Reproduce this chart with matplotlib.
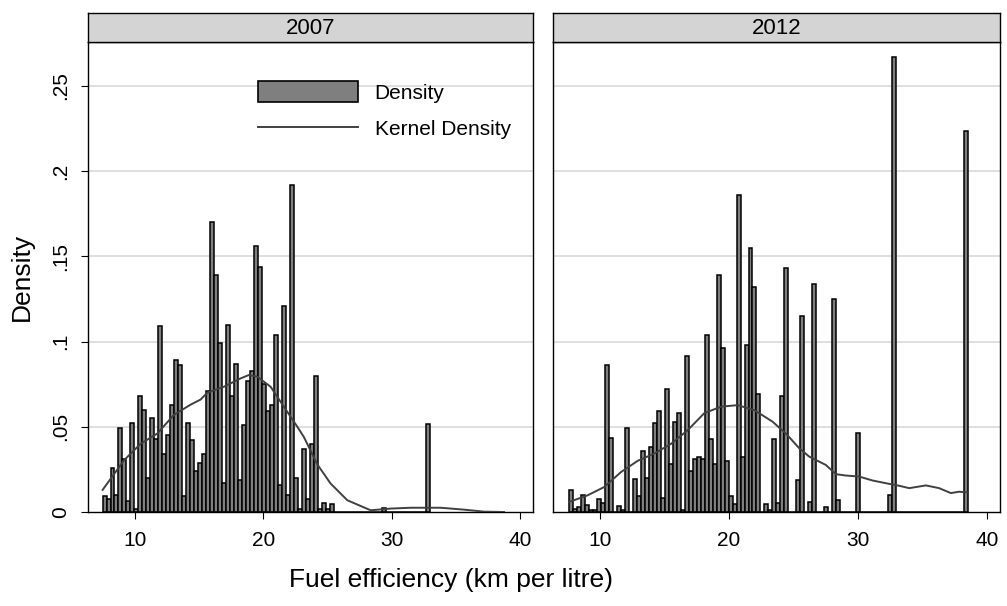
import numpy as np
import matplotlib
matplotlib.use("Agg")
import matplotlib.pyplot as plt
from matplotlib.patches import Patch
from matplotlib.lines import Line2D

plt.rcParams['font.family'] = ['Liberation Sans', 'DejaVu Sans']

years = ["2007", "2012"]

# histogram bins (start, width) and bar heights (density)
start_2007 = 7.48
width_2007 = 0.311
dens_2007 = [
    0.0094, 0.0075, 0.026, 0.0098, 0.049, 0.031, 0.0063, 0.052, 0.0016, 0.068,
    0.060, 0.020, 0.055, 0.043, 0.109, 0.034, 0.045, 0.063, 0.089, 0.086,
    0.0092, 0.052, 0.042, 0.024, 0.029, 0.034, 0.071, 0.170, 0.139, 0.099,
    0.017, 0.110, 0.068, 0.087, 0.019, 0.051, 0.077, 0.083, 0.156, 0.144,
    0.075, 0.059, 0.063, 0.104, 0.016, 0.121, 0.010, 0.192, 0.020, 0.002,
    0.037, 0.0078, 0.040, 0.080, 0.002, 0.0055, 0.002, 0.0047, 0, 0,
    0, 0, 0, 0, 0, 0, 0, 0, 0, 0,
    0.0024, 0, 0, 0, 0, 0, 0, 0, 0, 0,
    0, 0.0516,
]

start_2012 = 7.6
width_2012 = 0.309
dens_2012 = [
    0.0131, 0.002, 0.003, 0.0098, 0.0043, 0.0014, 0.0014, 0.0078, 0.0053, 0.086,
    0.0437, 0, 0.0035, 0.0014, 0.049, 0, 0.0196, 0.0092, 0.036, 0.020,
    0.038, 0.052, 0.059, 0.0084, 0.072, 0.028, 0.053, 0.058, 0.001, 0.0916,
    0.024, 0.031, 0.032, 0.031, 0.104, 0.043, 0.028, 0.139, 0.096, 0.030,
    0.0094, 0.0049, 0.186, 0.032, 0.098, 0.155, 0.132, 0.069, 0, 0.0045,
    0.001, 0.043, 0.005, 0.068, 0.143, 0, 0, 0.0185, 0.115, 0,
    0.0056, 0.134, 0, 0, 0.0027, 0, 0.125, 0.0072, 0, 0,
    0, 0, 0.0465, 0, 0, 0, 0, 0, 0, 0,
    0.010, 0.267, 0, 0, 0, 0, 0, 0, 0, 0,
    0, 0, 0, 0, 0, 0, 0, 0, 0, 0.2237,
]

# kernel density curves
kx_2007 = [7.49, 9.16, 10.44, 11.74, 13.04, 14.34, 15.12, 15.64, 16.93, 18.23,
           18.88, 19.53, 20.57, 21.6, 22.65, 23.16, 24.2, 25.24, 26.54, 28.36,
           29.9, 31.47, 33.8, 35.6, 37.2, 38.74]
ky_2007 = [0.013, 0.0304, 0.040, 0.046, 0.057, 0.063, 0.066, 0.070, 0.0735, 0.0784,
           0.0804, 0.0794, 0.0735, 0.0618, 0.050, 0.044, 0.028, 0.0167, 0.0069, 0.001,
           0.002, 0.0025, 0.0025, 0.0014, 0.0002, 0.0]

kx_2012 = [7.6, 9.04, 10.33, 11.63, 12.91, 14.2, 15.5, 16.79, 18.08, 19.37,
           20.66, 21.95, 23.37, 24.41, 25.44, 26.21, 27.5, 28.28, 29.05, 30.08,
           31.11, 32.15, 33.18, 33.96, 35.25, 36.28, 37.19, 37.83, 38.47]
ky_2012 = [0.0059, 0.0098, 0.0147, 0.0235, 0.030, 0.0343, 0.040, 0.048, 0.058, 0.0618,
           0.0627, 0.0598, 0.053, 0.046, 0.0374, 0.0325, 0.0276, 0.0222, 0.0214, 0.0208,
           0.0185, 0.0169, 0.0154, 0.014, 0.0156, 0.014, 0.0111, 0.0119, 0.0115]

x_ticks = [10, 20, 30, 40]
y_ticks = [0, 0.05, 0.1, 0.15, 0.2, 0.25]
y_labels = ["0", ".05", ".1", ".15", ".2", ".25"]

W, H = 1007, 606


def draw_panel(ax, start, width, dens, kx, ky):
    """Draw one histogram panel with its kernel density."""
    edges = start + width * np.arange(len(dens))
    ax.bar(edges, dens, width=width, align='edge', color='#7f7f7f',
           edgecolor='black', linewidth=1.1, zorder=2)
    ax.plot(kx, ky, color='#404040', linewidth=1.4, zorder=3)
    ax.set_xlim(6.35, 41.0)
    ax.set_ylim(0, 0.2758)
    ax.set_yticks(y_ticks)
    for y in y_ticks[1:]:
        ax.axhline(y, color='#dcdcdc', linewidth=1.3, zorder=0)
    ax.set_xticks(x_ticks)
    ax.tick_params(axis='x', length=5, width=0.8, pad=9, labelsize=15)
    for s in ax.spines.values():
        s.set_linewidth(1.0)


def add_header(fig, left, width, bottom, text):
    hx = fig.add_axes([left, bottom, width, 29 / H])
    hx.set_facecolor('#d4d4d4')
    hx.set_xticks([])
    hx.set_yticks([])
    for s in hx.spines.values():
        s.set_linewidth(1.0)
    hx.text(0.5, 0.47, text, ha='center', va='center', fontsize=16,
            transform=hx.transAxes)


def main():
    fig = plt.figure(figsize=(W / 100, H / 100), dpi=100)
    bottom = (H - 512) / H
    height = (512 - 42) / H
    lefts = [88 / W, 553 / W]
    widths = [445 / W, 447 / W]

    ax1 = fig.add_axes([lefts[0], bottom, widths[0], height])
    ax2 = fig.add_axes([lefts[1], bottom, widths[1], height])
    draw_panel(ax1, start_2007, width_2007, dens_2007, kx_2007, ky_2007)
    draw_panel(ax2, start_2012, width_2012, dens_2012, kx_2012, ky_2012)

    ax1.set_yticklabels(y_labels, rotation=90, va='center', fontsize=15)
    ax1.tick_params(axis='y', length=5, width=0.8, pad=8)
    ax2.tick_params(axis='y', left=False, labelleft=False)

    for left, width, yr in zip(lefts, widths, years):
        add_header(fig, left, width, (H - 42) / H, yr)

    handles = [Patch(facecolor='#7f7f7f', edgecolor='black', linewidth=1.2),
               Line2D([0], [0], color='#404040', linewidth=1.4)]
    ax1.legend(handles, ["Density", "Kernel Density"], loc='upper left',
               bbox_to_anchor=(258 / W, (H - 81) / H),
               bbox_transform=fig.transFigure, frameon=False, fontsize=15,
               handlelength=4.8, handleheight=1.2, handletextpad=0.8,
               labelspacing=0.72, borderpad=0, borderaxespad=0)

    fig.text(451 / W, (H - 580) / H, "Fuel efficiency (km per litre)",
             ha='center', va='center', fontsize=19)
    fig.text(22 / W, (H - 277) / H, "Density", ha='center', va='center',
             rotation=90, fontsize=19)

    fig.savefig("out.png", dpi=100)


if __name__ == "__main__":
    main()
